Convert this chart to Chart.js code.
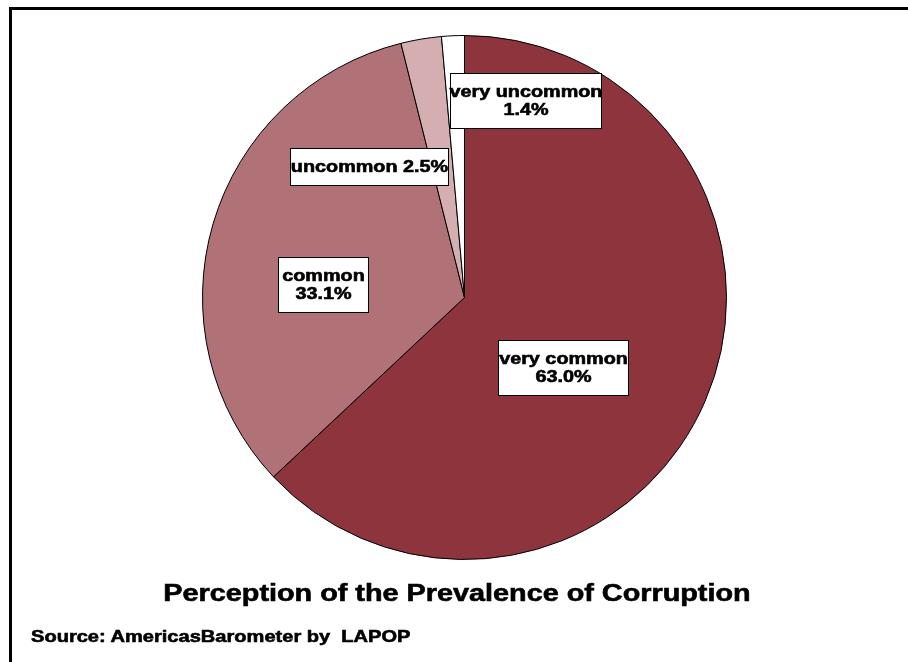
<!DOCTYPE html>
<html>
<head>
<meta charset="utf-8">
<script src="https://cdn.jsdelivr.net/npm/chart.js@4/dist/chart.umd.min.js"></script>
<style>
  html, body { margin: 0; padding: 0; background: #fff; overflow: hidden; }
  #wrap { position: relative; width: 908px; height: 662px; }
  #frame { position: absolute; left: 9px; top: 7px; width: 1000px; height: 1000px;
           border-left: 3px solid #000; border-top: 3px solid #000; }
  #chart { position: absolute; left: 0; top: 0; }
  .txt { position: absolute; font-family: "Liberation Sans", Arial, sans-serif; font-weight: bold;
         color: #000; white-space: nowrap; -webkit-text-stroke: 0.6px #000; }
  #title { left: 0; width: 914px; top: 579px; font-size: 24px; line-height: 28px; text-align: center;
           transform: scaleX(1.2); transform-origin: 50% 50%; }
  #source { left: 31px; top: 627px; font-size: 17px; line-height: 20px;
            transform: scaleX(1.18); transform-origin: 0 50%; }
</style>
</head>
<body>
<div id="wrap">
  <div id="frame"></div>
  <canvas id="chart" width="908" height="662"></canvas>
  <div id="title" class="txt">Perception of the Prevalence of Corruption</div>
  <div id="source" class="txt">Source: AmericasBarometer by&nbsp; LAPOP</div>
</div>
<script>
// Data
const categories = ['very common', 'common', 'uncommon', 'very uncommon'];
const percentages = [63.0, 33.1, 2.5, 1.4];

const sliceColors = ['#8d343d', '#b07276', '#d4aeb1', '#ffffff'];

// label boxes, placed relative to the pie centre in units of radius
const labelLayout = [
  { dx: 0.376, dy: 0.268, w: 130, h: 55, oneLine: false },
  { dx: -0.540, dy: -0.051, w: 90, h: 55, oneLine: false },
  { dx: -0.365, dy: -0.500, w: 158, h: 37, oneLine: true },
  { dx: 0.234, dy: -0.751, w: 151, h: 55, oneLine: false }
];

const boxLabels = {
  id: 'boxLabels',
  afterDatasetsDraw(chart) {
    const ctx = chart.ctx;
    const arcs = chart.getDatasetMeta(0).data;
    if (!arcs.length) return;
    const cx = arcs[0].x, cy = arcs[0].y, r = arcs[0].outerRadius;
    ctx.save();
    ctx.font = 'bold 16.5px "Liberation Sans", Arial, sans-serif';
    ctx.textAlign = 'center';
    ctx.textBaseline = 'middle';
    categories.forEach((cat, i) => {
      const lay = labelLayout[i];
      const x0 = Math.round(cx + lay.dx * r - lay.w / 2) + 0.5;
      const y0 = Math.round(cy + lay.dy * r - lay.h / 2) + 0.5;
      const bx = x0 + lay.w / 2, by = y0 + lay.h / 2;
      ctx.fillStyle = '#fff';
      ctx.fillRect(x0, y0, lay.w, lay.h);
      ctx.strokeStyle = '#000';
      ctx.lineWidth = 1;
      ctx.strokeRect(x0, y0, lay.w, lay.h);
      const pct = percentages[i].toFixed(1) + '%';
      const lines = lay.oneLine ? [cat + ' ' + pct] : [cat, pct];
      ctx.fillStyle = '#000';
      ctx.lineWidth = 0.6;
      lines.forEach((line, k) => {
        const ly = by + (k - (lines.length - 1) / 2) * 18;
        ctx.save();
        ctx.translate(bx, ly);
        ctx.scale(1.2, 1);
        ctx.fillText(line, 0, 0);
        ctx.strokeText(line, 0, 0);
        ctx.restore();
      });
    });
    ctx.restore();
  }
};

new Chart(document.getElementById('chart').getContext('2d'), {
  type: 'pie',
  data: {
    labels: categories,
    datasets: [{
      data: percentages,
      backgroundColor: sliceColors,
      borderColor: '#000',
      borderWidth: 1,
      hoverOffset: 0
    }]
  },
  options: {
    responsive: false,
    animation: false,
    layout: { padding: { top: 35, bottom: 102, left: 21, right: 0 } },
    plugins: {
      legend: { display: false },
      tooltip: { enabled: false }
    }
  },
  plugins: [boxLabels]
});
</script>
</body>
</html>
